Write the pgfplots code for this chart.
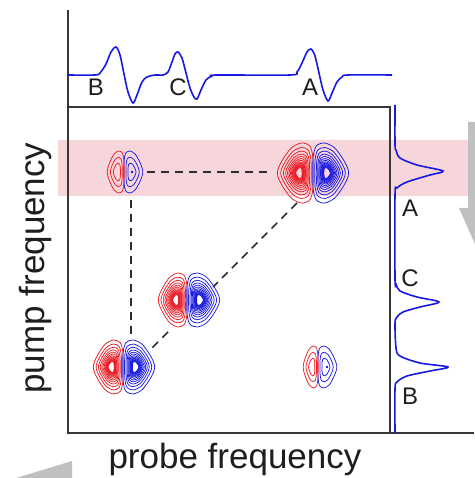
\documentclass[border=0pt]{standalone}
\usepackage{pgfplots}
\pgfplotsset{compat=1.18}
\usepackage{pgfplotstable}
\usepackage{fontspec}
\setmainfont{Liberation Sans}

\definecolor{redc}{RGB}{235,28,36}
\definecolor{bluec}{RGB}{28,28,225}
\definecolor{specc}{RGB}{25,25,230}
\definecolor{pinkc}{RGB}{246,214,218}
\definecolor{framec}{RGB}{55,55,55}
\definecolor{txtc}{RGB}{30,30,30}
\definecolor{arrc}{RGB}{192,192,192}
\definecolor{dashc}{RGB}{45,45,45}

% unit contour shapes (flat side at the node line)
\pgfplotstableread{
x y
1 0
0.97 0.55
0.8 0.9
0.35 1
-0.2 0.85
-0.65 0.5
-0.92 0.2
-1 0
-0.92 -0.2
-0.65 -0.5
-0.2 -0.85
0.35 -1
0.8 -0.9
0.97 -0.55
1 0
}\redshape
\pgfplotstableread{
x y
-1 0
-0.97 0.55
-0.8 0.9
-0.35 1
0.2 0.85
0.65 0.5
0.92 0.2
1 0
0.92 -0.2
0.65 -0.5
0.2 -0.85
-0.35 -1
-0.8 -0.9
-0.97 -0.55
-1 0
}\blueshape

% top (probe) spectrum
\pgfplotstableread{
x y
68 403
95 403
100 405
106 414
111 426
116 431
120 423
124 404
128 386
133 375
137 383
142 396
147 401
155 403
163 403
168 406
172 416
175 424
178 426
182 420
186 405
190 390
194 381
197 379
201 388
206 398
212 402
218 403
290 403
297 406
302 415
307 426
311 429
315 422
319 405
323 388
328 377
332 385
337 396
342 401
348 403
392 403
}\topspec

% right (pump) spectrum
\pgfplotstableread{
x y
395 373
395 333
396 328
400 320
417 313
443 307
430 303
407 296
397 290
395 283
395 200
396 194
400 187
417 181
439 176
420 171
403 166
397 161
395 155
396 130
400 122
420 115
448 111
430 107
407 102
397 96
395 89
395 45
}\rightspec

\newcommand\lobe[6]{%
  \edef\tmp{\noexpand\addplot[#1, line width=0.75pt, smooth]
    table[x expr={#3+#5*\noexpand\thisrow{x}}, y expr={#4+#6*\noexpand\thisrow{y}}] {\noexpand#2};}%
  \tmp}
% #1 node x, #2 y, #3 red width, #4 blue width, #5 half height, #6 levels
\newcommand\peak[6]{%
  \foreach \s in {#6}{%
    \pgfmathsetmacro\cxr{#1-0.37*#3-0.12*#3*\s}%
    \pgfmathsetmacro\rxr{0.5*#3*\s}%
    \pgfmathsetmacro\cxb{#1+0.37*#4+0.12*#4*\s}%
    \pgfmathsetmacro\rxb{0.5*#4*\s}%
    \pgfmathsetmacro\ry{#5*\s}%
    \lobe{redc}{\redshape}{\cxr}{#2}{\rxr}{\ry}%
    \lobe{bluec}{\blueshape}{\cxb}{#2}{\rxb}{\ry}%
  }}

\begin{document}
\begin{tikzpicture}
\useasboundingbox (-68pt,-45pt) rectangle (406pt,433pt);
\begin{axis}[
  at={(0pt,0pt)}, anchor=south west,
  scale only axis, width=322pt, height=326pt,
  xmin=68, xmax=390, ymin=45, ymax=371,
  xtick=\empty, ytick=\empty,
  clip=false, axis on top,
  axis line style={draw=framec, line width=1.2pt},
]
% pink band
\addplot[fill=pinkc, draw=none] coordinates {(58,282) (474,282) (474,338) (58,338) (58,282)};
% gray arrows
\addplot[fill=arrc, draw=none] coordinates {(468,356) (500,356) (500,270) (505,270) (482,218) (459,270) (468,270) (468,356)};
\addplot[fill=arrc, draw=none] coordinates {(72,17) (72,-30) (10,-30) (-10,-8) (72,17)};
% extra frame lines
\addplot[framec, line width=1.2pt] coordinates {(68,371) (68,468)};
\addplot[framec, line width=1.2pt] coordinates {(390,45) (474,45)};
% dashed connectors
\addplot[dashc, line width=1.5pt, dash pattern=on 8pt off 6pt] coordinates {(147,306) (272,306)};
\addplot[dashc, line width=1.5pt, dash pattern=on 8pt off 6pt] coordinates {(131,278) (131,140)};
\addplot[dashc, line width=1.5pt, dash pattern=on 8pt off 6pt] coordinates {(297,275) (213,191)};
\addplot[dashc, line width=1.5pt, dash pattern=on 8pt off 6pt] coordinates {(168,146) (148,126)};
% spectra
\addplot[specc, line width=1.6pt, smooth] table {\topspec};
\addplot[specc, line width=1.6pt, smooth] table {\rightspec};
% 2D peaks
\peak{313}{305}{36}{36}{30}{1,0.85,0.73,0.63,0.55,0.48,0.42,0.37,0.33,0.3,0.27,0.245,0.22,0.2,0.18}
\peak{187}{178}{29}{33}{27}{1,0.85,0.73,0.63,0.55,0.48,0.42,0.37,0.33,0.3,0.27,0.245,0.22,0.2}
\peak{123}{111}{30}{32}{27}{1,0.85,0.73,0.63,0.55,0.48,0.42,0.37,0.33,0.3,0.27,0.245,0.22,0.2}
\peak{124}{306}{17}{19}{21}{1,0.7,0.42}
\peak{318}{111}{15}{19}{21}{1,0.7,0.42}
\addplot[bluec, only marks, mark=*, mark size=1pt] coordinates {(132,306) (327,111)};
% labels
\node[font=\fontsize{24}{28}\selectfont, text=txtc, anchor=base] at (axis cs:96,382) {B};
\node[font=\fontsize{24}{28}\selectfont, text=txtc, anchor=base] at (axis cs:178,382) {C};
\node[font=\fontsize{24}{28}\selectfont, text=txtc, anchor=base] at (axis cs:310,382) {A};
\node[font=\fontsize{24}{28}\selectfont, text=txtc, anchor=base] at (axis cs:410,261) {A};
\node[font=\fontsize{24}{28}\selectfont, text=txtc, anchor=base] at (axis cs:410,191) {C};
\node[font=\fontsize{24}{28}\selectfont, text=txtc, anchor=base] at (axis cs:410,73) {B};
\node[font=\fontsize{35}{40}\selectfont, text=txtc, anchor=base] at (axis cs:235,10) {probe frequency};
\node[font=\fontsize{35}{40}\selectfont, text=txtc, anchor=base, rotate=90] at (axis cs:45,210) {pump frequency};
\end{axis}
\end{tikzpicture}
\end{document}
